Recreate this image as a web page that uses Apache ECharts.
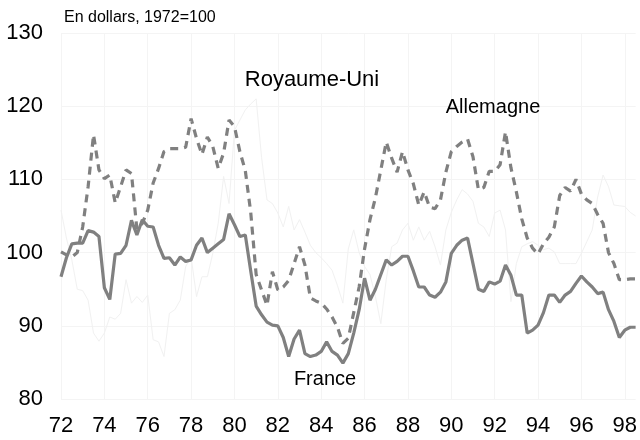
<!DOCTYPE html>
<html>
<head>
<meta charset="utf-8">
<script src="https://cdn.jsdelivr.net/npm/echarts@6/dist/echarts.min.js"></script>
<style>
html,body{margin:0;padding:0;background:#fff;}
#chart{width:640px;height:440px;}
</style>
</head>
<body>
<div id="chart"></div>
<script>
// Tick labels (years, every 2 years) and quarterly data 1972Q1..1998Q3
var yearTicks = ['72','74','76','78','80','82','84','86','88','90','92','94','96','98'];
var startYear = 72, endYear = 98, lastQuarter = 3;

var france = [
  96.7, 99.3, 101.2, 101.3,
  101.3, 103.0, 102.8, 102.2,
  95.2, 93.6, 99.8, 99.9,
  101.0, 104.4, 102.4, 104.5,
  103.6, 103.5, 101.0, 99.2,
  99.3, 98.3, 99.4, 98.8,
  99.0, 101.0, 102.0, 100.0,
  100.6, 101.2, 101.8, 105.3,
  103.8, 102.2, 102.4, 97.5,
  92.7, 91.5, 90.5, 90.1,
  90.0, 88.4, 85.8, 88.2,
  89.4, 86.2, 85.8, 86.0,
  86.5, 87.8, 86.5, 86.0,
  84.9, 86.2, 89.0, 92.2,
  96.5, 93.5, 95.0, 97.0,
  99.0, 98.3, 98.8, 99.5,
  99.5, 97.5, 95.3, 95.3,
  94.2, 93.9, 94.6, 96.0,
  99.9, 101.0, 101.7, 102.0,
  98.5, 95.0, 94.7, 96.0,
  95.7, 96.1, 98.3, 96.9,
  94.2, 94.2, 89.0, 89.4,
  90.1, 91.8, 94.2, 94.2,
  93.2, 94.2, 94.7, 95.8,
  96.8, 96.0, 95.3, 94.4,
  94.6, 92.2, 90.6, 88.4,
  89.4, 89.8, 89.8
];

var allemagne = [
  100.1, 99.7, 99.4, 100.0,
  103.5, 109.0, 116.1, 111.3,
  110.1, 110.6, 106.8, 109.0,
  111.3, 110.8, 103.2, 104.0,
  105.8, 109.5, 111.5, 113.8,
  114.2, 114.2, 114.2, 114.4,
  118.3, 115.6, 113.4, 115.8,
  114.5, 111.5, 113.6, 118.1,
  117.2, 113.8, 111.2, 105.5,
  97.0, 94.9, 92.8, 97.4,
  94.9, 95.3, 96.2, 98.5,
  100.8, 98.3, 93.8, 93.4,
  93.1, 92.3, 91.2, 89.8,
  87.6, 88.3, 91.8, 95.3,
  100.5, 104.5, 107.5, 111.3,
  115.1, 112.9, 111.0, 113.8,
  111.3, 109.4, 106.5, 108.3,
  106.2, 106.0, 107.2, 111.0,
  113.8, 114.5, 115.1, 115.5,
  113.1, 108.6, 108.9, 111.1,
  111.1, 112.0, 116.5, 111.6,
  108.3, 104.6, 102.0, 100.6,
  99.8, 101.2, 102.1, 103.5,
  107.8, 108.9, 108.4, 110.0,
  108.0, 107.2, 106.7, 105.2,
  104.0, 100.0, 98.5, 96.3,
  96.3, 96.4, 96.4
];

var royaumeUni = [
  105.8, 102.0, 99.0, 95.0,
  94.8, 93.5, 89.0, 87.9,
  89.0, 91.2, 90.9, 91.7,
  96.3, 93.1, 94.0, 93.2,
  94.2, 88.1, 87.8, 85.8,
  91.7, 92.2, 93.5, 98.1,
  99.4, 94.0, 96.7, 96.7,
  99.9, 104.0, 110.4, 106.7,
  116.7, 118.1, 119.5, 120.3,
  121.0, 113.0, 107.2, 106.7,
  105.4, 103.5, 106.3, 103.1,
  104.5, 102.8, 101.0, 100.0,
  99.3, 98.5, 97.6, 95.5,
  93.1, 100.5, 103.1, 100.0,
  98.1, 97.0, 94.0, 90.3,
  96.3, 100.8, 101.3, 103.1,
  104.0, 101.7, 103.5, 101.7,
  102.9, 100.8, 98.3, 103.1,
  105.5, 107.2, 108.6, 108.0,
  107.0, 104.0, 103.5, 102.2,
  105.4, 105.8, 103.1, 93.3,
  98.5, 100.8, 101.2, 101.5,
  101.0, 100.4, 100.6, 100.1,
  98.5, 98.5, 98.5, 98.5,
  99.9, 101.5, 103.1, 107.6,
  110.6, 109.0, 106.5, 106.4,
  106.3, 105.5, 105.0
];

var seriesNames = ['Royaume-Uni', 'Allemagne', 'France'];
var subtitle = 'En dollars, 1972=100';

// quarter categories
var categories = [];
for (var y = startYear; y <= endYear; y++) {
  for (var q = 1; q <= 4; q++) {
    if (y === endYear && q > lastQuarter) break;
    categories.push(y + 'T' + q);
  }
}

var chart = echarts.init(document.getElementById('chart'), null, {renderer: 'canvas'});
var FONT = '"Liberation Sans", Arial, Helvetica, sans-serif';
var grey = '#808080';

chart.setOption({
  animation: false,
  backgroundColor: '#ffffff',
  textStyle: {fontFamily: FONT},
  grid: {left: 61, right: 0, top: 33, bottom: 41, containLabel: false},
  xAxis: {
    type: 'category',
    data: categories,
    boundaryGap: false,
    axisLine: {show: false},
    axisTick: {show: false},
    axisLabel: {
      interval: 7,
      margin: 16,
      color: '#000',
      fontSize: 22,
      fontFamily: FONT,
      formatter: function (v) {
        var yy = v.split('T')[0];
        return yearTicks.indexOf(yy) >= 0 && v.split('T')[1] === '1' ? yy : '';
      }
    },
    splitLine: {show: true, interval: 7, lineStyle: {color: '#f4f4f4', width: 1}}
  },
  yAxis: {
    type: 'value',
    min: 80, max: 130, interval: 10,
    axisLine: {show: false},
    axisTick: {show: false},
    axisLabel: {margin: 18, color: '#000', fontSize: 22, fontFamily: FONT},
    splitLine: {show: true, lineStyle: {color: '#f4f4f4', width: 1}}
  },
  series: [
    {
      name: seriesNames[0], type: 'line', data: royaumeUni, symbol: 'none', z: 1,
      lineStyle: {color: '#f1f1f1', width: 1}
    },
    {
      name: seriesNames[1], type: 'line', data: allemagne, symbol: 'none', z: 2,
      lineStyle: {color: grey, width: 3.2, type: [8, 6]}
    },
    {
      name: seriesNames[2], type: 'line', data: france, symbol: 'none', z: 3,
      lineStyle: {color: grey, width: 3.2}
    }
  ],
  graphic: [
    {type: 'text', z: 10, style: {x: 64, y: 18, text: subtitle, fill: '#000', font: '16px ' + FONT, textAlign: 'left', textVerticalAlign: 'middle'}},
    {type: 'text', z: 10, style: {x: 312, y: 80, text: seriesNames[0], fill: '#000', font: '22px ' + FONT, textAlign: 'center', textVerticalAlign: 'middle'}},
    {type: 'text', z: 10, style: {x: 493, y: 107, text: seriesNames[1], fill: '#000', font: '20px ' + FONT, textAlign: 'center', textVerticalAlign: 'middle'}},
    {type: 'text', z: 10, style: {x: 325, y: 379, text: seriesNames[2], fill: '#000', font: '20px ' + FONT, textAlign: 'center', textVerticalAlign: 'middle'}}
  ]
});
</script>
</body>
</html>
